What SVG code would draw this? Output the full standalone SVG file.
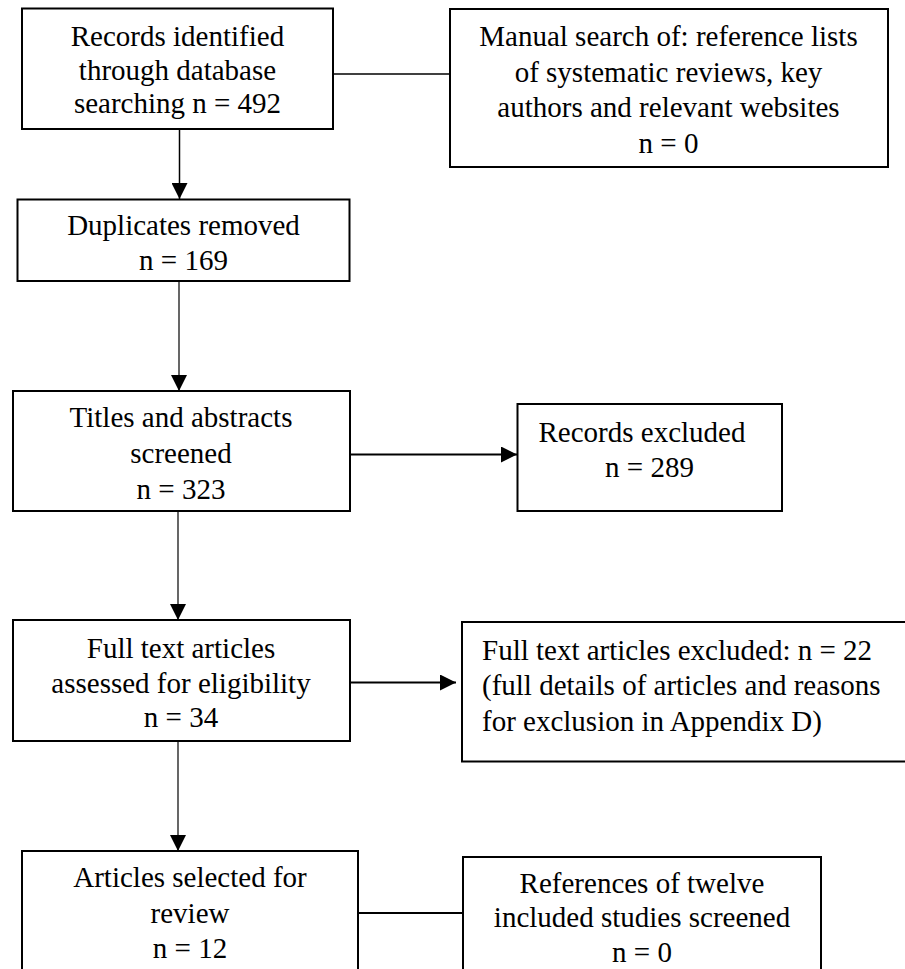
<svg xmlns="http://www.w3.org/2000/svg" width="905" height="969" viewBox="0 0 905 969">
<defs>
<style>
.box{fill:#fff;stroke:#000;stroke-width:2}
.t{font-size:29px;fill:#000;text-anchor:middle}
.l{text-anchor:start}
.c{stroke:#000;fill:none}
</style>
<marker id="ah" markerUnits="userSpaceOnUse" markerWidth="16" markerHeight="16" refX="16" refY="8" orient="auto" viewBox="0 0 16 16">
<path d="M0,0 L16,8 L0,16 z" fill="#000"/>
</marker>
</defs>
<rect width="905" height="969" fill="#fff"/>
<g id="connectors">
<line class="c" x1="334" y1="74" x2="450" y2="74" stroke-width="1.5"/>
<line class="c" x1="179.5" y1="129" x2="179.5" y2="199" stroke-width="1.5" marker-end="url(#ah)"/>
<line class="c" x1="179" y1="281" x2="179" y2="391" stroke-width="1.2" marker-end="url(#ah)"/>
<line class="c" x1="350" y1="454.5" x2="517" y2="454.5" stroke-width="2" marker-end="url(#ah)"/>
<line class="c" x1="178" y1="511" x2="178" y2="620" stroke-width="1.2" marker-end="url(#ah)"/>
<line class="c" x1="350" y1="682.5" x2="456" y2="682.5" stroke-width="2" marker-end="url(#ah)"/>
<line class="c" x1="178" y1="741" x2="178" y2="851" stroke-width="1.2" marker-end="url(#ah)"/>
<line class="c" x1="358" y1="913" x2="463" y2="913" stroke-width="2"/>
</g>
<g font-family="Liberation Serif, Times New Roman, DejaVu Serif, serif">
<g id="n1">
<rect class="box" x="22" y="8.5" width="311" height="120.5"/>
<text class="t" x="177.5" y="46">Records identified</text>
<text class="t" x="177.5" y="80">through database</text>
<text class="t" x="177.5" y="113">searching n = 492</text>
</g>
<g id="n2">
<rect class="box" x="450" y="9" width="438" height="158"/>
<text class="t" x="668.5" y="46">Manual search of: reference lists</text>
<text class="t" x="668.5" y="82">of systematic reviews, key</text>
<text class="t" x="668.5" y="117">authors and relevant websites</text>
<text class="t" x="668.5" y="153">n = 0</text>
</g>
<g id="n3">
<rect class="box" x="17.5" y="199.5" width="332" height="81.5"/>
<text class="t" x="183.5" y="235">Duplicates removed</text>
<text class="t" x="183.5" y="269.5">n = 169</text>
</g>
<g id="n4">
<rect class="box" x="13" y="391" width="337" height="120"/>
<text class="t" x="181" y="427">Titles and abstracts</text>
<text class="t" x="181" y="463">screened</text>
<text class="t" x="181" y="499">n = 323</text>
</g>
<g id="n5">
<rect class="box" x="517.5" y="404" width="264.5" height="107"/>
<text class="t" x="642" y="442">Records excluded</text>
<text class="t" x="649.5" y="477">n = 289</text>
</g>
<g id="n6">
<rect class="box" x="13" y="620" width="337" height="121"/>
<text class="t" x="181" y="658">Full text articles</text>
<text class="t" x="181" y="693">assessed for eligibility</text>
<text class="t" x="181" y="727">n = 34</text>
</g>
<g id="n7">
<rect class="box" x="462" y="622" width="460" height="139.5"/>
<text class="t l" x="482" y="659.5">Full text articles excluded: n = 22</text>
<text class="t l" x="482" y="695">(full details of articles and reasons</text>
<text class="t l" x="482" y="731">for exclusion in Appendix D)</text>
</g>
<g id="n8">
<rect class="box" x="22" y="851" width="336" height="140"/>
<text class="t" x="190" y="887">Articles selected for</text>
<text class="t" x="190" y="923">review</text>
<text class="t" x="190" y="958">n = 12</text>
</g>
<g id="n9">
<rect class="box" x="463" y="857" width="358" height="135"/>
<text class="t" x="642" y="893">References of twelve</text>
<text class="t" x="642" y="927">included studies screened</text>
<text class="t" x="642" y="962">n = 0</text>
</g>
</g>
</svg>
